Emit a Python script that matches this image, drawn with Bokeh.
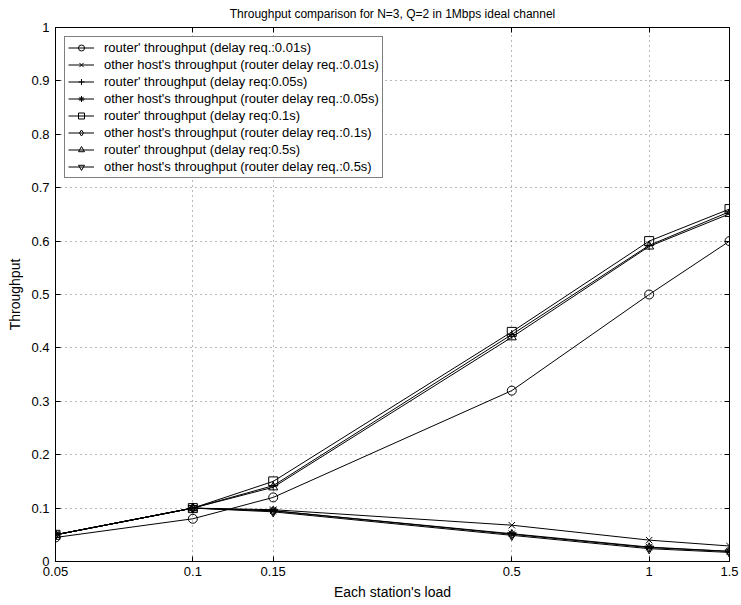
from bokeh.plotting import figure
from bokeh.models import (FixedTicker, NumeralTickFormatter, LogAxis, LinearAxis, Range1d,
                          CustomLabelingPolicy)
from bokeh.embed import file_html
from bokeh.resources import INLINE

# Offered load per station (log-scaled axis)
load = [0.05, 0.1, 0.15, 0.5, 1, 1.5]

# Router throughput and other hosts' throughput for each router delay requirement
router_001 = [0.045, 0.080, 0.120, 0.320, 0.500, 0.600]
host_001 = [0.050, 0.100, 0.097, 0.068, 0.040, 0.029]
router_005 = [0.050, 0.100, 0.142, 0.425, 0.592, 0.655]
host_005 = [0.050, 0.100, 0.095, 0.052, 0.027, 0.019]
router_01 = [0.050, 0.100, 0.150, 0.430, 0.600, 0.660]
host_01 = [0.050, 0.100, 0.095, 0.051, 0.026, 0.019]
router_05 = [0.050, 0.100, 0.139, 0.420, 0.590, 0.651]
host_05 = [0.050, 0.100, 0.093, 0.049, 0.024, 0.017]

labels = [
    "router' throughput (delay req.:0.01s)",
    "other host's throughput (router delay req.:0.01s)",
    "router' throughput (delay req:0.05s)",
    "other host's throughput (router delay req.:0.05s)",
    "router' throughput (delay req:0.1s)",
    "other host's throughput (router delay req.:0.1s)",
    "router' throughput (delay req:0.5s)",
    "other host's throughput (router delay req.:0.5s)",
]
series = [router_001, host_001, router_005, host_005, router_01, host_01, router_05, host_05]
markers = ["circle", "x", "cross", "asterisk", "square", "diamond", "triangle", "inverted_triangle"]

x_ticks = [0.05, 0.1, 0.15, 0.5, 1, 1.5]
y_ticks = [0, 0.1, 0.2, 0.3, 0.4, 0.5, 0.6, 0.7, 0.8, 0.9, 1]

FONT = "Liberation Sans"

p = figure(
    width=741, height=605,
    x_axis_type="log",
    x_range=Range1d(0.05, 1.5), y_range=Range1d(0, 1),
    title="Throughput comparison for N=3, Q=2 in 1Mbps ideal channel",
    output_backend="svg", toolbar_location=None,
    min_border_left=55, min_border_right=12, min_border_top=27, min_border_bottom=44,
    x_axis_label="Each station's load", y_axis_label="Throughput",
)

p.title.align = "center"
p.title.text_font = FONT
p.title.text_font_size = "12px"
p.title.text_font_style = "normal"
p.title.text_color = "black"
p.title.standoff = 5

for ys, lab, mk in zip(series, labels, markers):
    p.line(load, ys, line_color="black", line_width=1, legend_label=lab)
    p.scatter(load, ys, marker=mk, size=9, line_color="black", line_width=1,
              fill_color=None, legend_label=lab)

# Box axes: ticks point inward on all four sides
p.add_layout(LogAxis(), "above")
p.add_layout(LinearAxis(), "right")

for ax in p.axis:
    ax.axis_line_color = "black"
    ax.axis_line_width = 1
    ax.major_tick_line_color = "black"
    ax.major_tick_in = 5
    ax.major_tick_out = 0
    ax.minor_tick_line_color = None
    ax.major_label_text_font = FONT
    ax.major_label_text_font_size = "13px"
    ax.major_label_text_color = "black"
    ax.axis_label_text_font = FONT
    ax.axis_label_text_font_size = "14px"
    ax.axis_label_text_font_style = "normal"
    ax.axis_label_text_color = "black"

for ax in p.xaxis:
    ax.ticker = FixedTicker(ticks=x_ticks)
    ax.formatter = NumeralTickFormatter(format="0.[00]")
for ax in p.yaxis:
    ax.ticker = FixedTicker(ticks=y_ticks)
    ax.formatter = NumeralTickFormatter(format="0.[0]")

p.xaxis[0].major_label_standoff = 6
p.xaxis[0].axis_label_standoff = 3
p.yaxis[0].major_label_standoff = 6
p.yaxis[0].axis_label_standoff = 5

# Top and right axes carry ticks only, no labels
no_labels = CustomLabelingPolicy(code="""
    for (const i of indices) { indices.unset(i) }
    return indices
""")
for ax in (p.above[-1], p.right[-1]):
    ax.major_label_policy = no_labels
    ax.major_label_text_font_size = "1px"
    ax.major_label_standoff = 0

p.xgrid.ticker = FixedTicker(ticks=x_ticks)
p.ygrid.ticker = FixedTicker(ticks=y_ticks)
for g in (p.xgrid[0], p.ygrid[0]):
    g.grid_line_color = "black"
    g.grid_line_alpha = 0.55
    g.grid_line_dash = "1 4"
    g.grid_line_width = 1

p.outline_line_color = "black"
p.background_fill_color = "white"
p.border_fill_color = "white"

lg = p.legend[0]
lg.location = "top_left"
lg.margin = 9
lg.padding = 3
lg.spacing = 2
lg.glyph_height = 15
lg.label_height = 15
lg.glyph_width = 26
lg.label_standoff = 10
lg.label_text_font = FONT
lg.label_text_font_size = "13px"
lg.label_text_color = "black"
lg.border_line_color = "black"
lg.border_line_width = 1
lg.background_fill_color = "white"
lg.background_fill_alpha = 1

open("out.html", "w").write(file_html(p, INLINE))
